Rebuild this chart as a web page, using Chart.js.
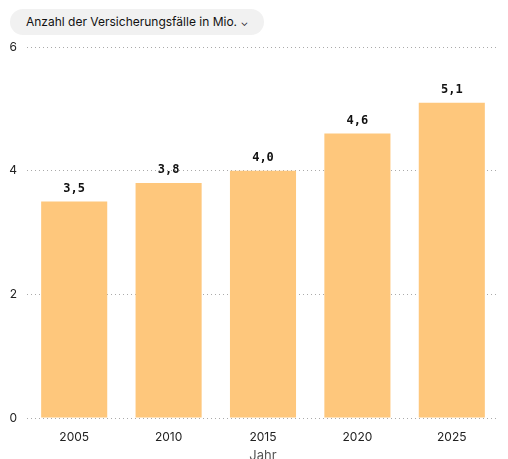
<!DOCTYPE html>
<html>
<head>
<meta charset="utf-8">
<script src="https://cdn.jsdelivr.net/npm/chart.js@4"></script>
<style>
  html, body { margin: 0; padding: 0; background: #fff; overflow: hidden; }
  #wrap { position: relative; width: 508px; height: 459px; }
  #pill {
    position: absolute; left: 10px; top: 9px; height: 26px; padding: 0 16px;
    background: #f1f1f1; border-radius: 13px;
    font: 12px "Inter", "Liberation Sans", sans-serif; color: #111;
    line-height: 26px; z-index: 2;
  }
  canvas { position: absolute; left: 0; top: 0; }
</style>
</head>
<body>
<div id="wrap">
  <div id="pill">Anzahl der Versicherungsfälle in Mio. <span style="font-size:10px">&#8964;</span></div>
  <canvas id="chart" width="508" height="466"></canvas>
</div>
<script>
// Werte
const years = ['2005', '2010', '2015', '2020', '2025'];
const cases = [3.5, 3.8, 4.0, 4.6, 5.1];
const yTicks = [0, 2, 4, 6];

const barColor = '#fec77c';

// draws the "3,5" style labels above each bar
const valueLabels = {
  id: 'valueLabels',
  afterDatasetsDraw(chart) {
    const ctx = chart.ctx;
    const meta = chart.getDatasetMeta(0);
    ctx.save();
    ctx.font = 'bold 12px "DejaVu Sans Mono", monospace';
    ctx.fillStyle = '#111';
    ctx.textAlign = 'center';
    ctx.textBaseline = 'bottom';
    meta.data.forEach((bar, i) => {
      ctx.fillText(cases[i].toFixed(1).replace('.', ','), bar.x, bar.y - 7);
    });
    ctx.restore();
  }
};

new Chart(document.getElementById('chart'), {
  type: 'bar',
  data: {
    labels: years,
    datasets: [{
      data: cases,
      backgroundColor: barColor,
      borderWidth: 0,
      categoryPercentage: 1,
      barPercentage: 0.7
    }]
  },
  options: {
    responsive: false,
    animation: false,
    layout: { padding: { top: 47, right: 9, bottom: 2, left: 0 } },
    plugins: { legend: { display: false }, tooltip: { enabled: false } },
    scales: {
      x: {
        grid: { display: false },
        border: { display: false },
        ticks: { color: '#222', font: { size: 12, family: 'Inter' }, padding: 4 },
        title: { display: true, text: 'Jahr', color: '#555', font: { size: 13, family: 'Inter' }, padding: { top: 0, bottom: 0 } }
      },
      y: {
        min: 0, max: 6,
        afterBuildTicks(axis) { axis.ticks = yTicks.map(v => ({ value: v })); },
        afterFit(axis) { axis.width = 27; },
        grid: { color: '#aaa', lineWidth: 1, drawTicks: false },
        border: { display: false, dash: [1, 3] },
        ticks: { color: '#222', font: { size: 12, family: 'Inter' }, padding: 10, z: 1 }
      }
    }
  },
  plugins: [valueLabels]
});
</script>
</body>
</html>
